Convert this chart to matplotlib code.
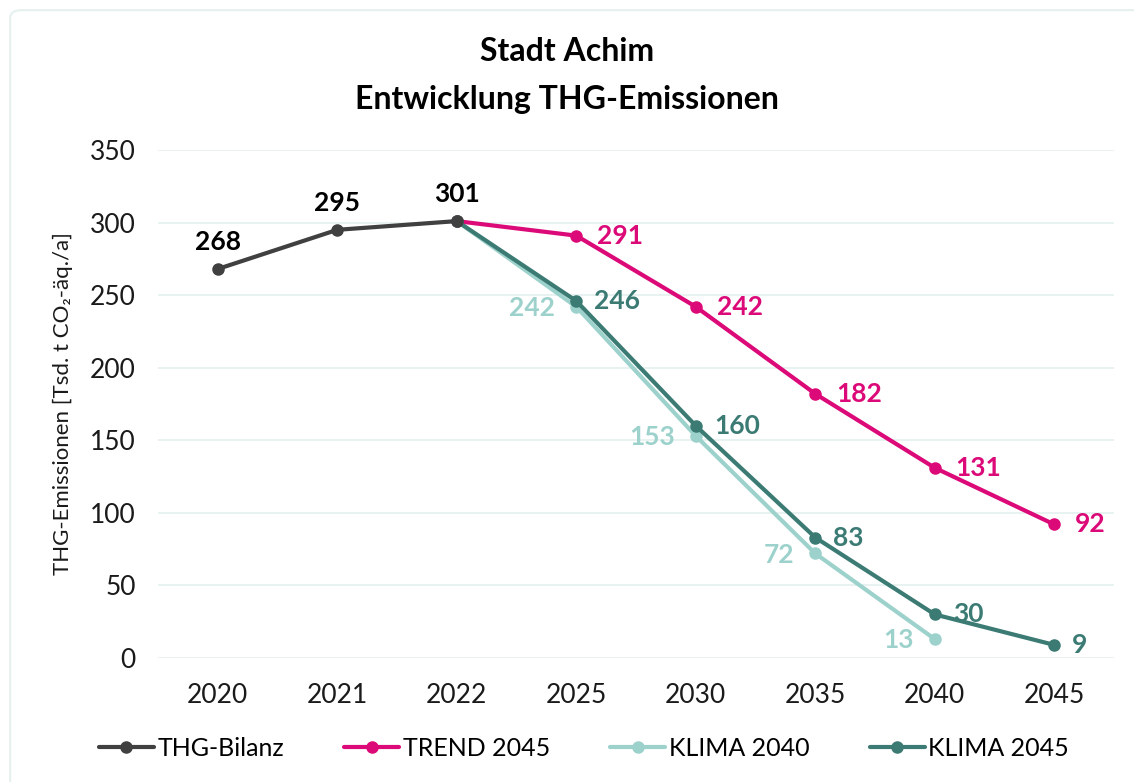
import matplotlib
matplotlib.use("Agg")
import matplotlib.pyplot as plt
from matplotlib.patches import FancyBboxPatch

plt.rcParams["font.family"] = ["Lato", "DejaVu Sans"]

years = ["2020", "2021", "2022", "2025", "2030", "2035", "2040", "2045"]

bilanz = [268, 295, 301]
trend_2045 = [301, 291, 242, 182, 131, 92]
klima_2040 = [301, 242, 153, 72, 13]
klima_2045 = [301, 246, 160, 83, 30, 9]

C_BILANZ = "#404040"
C_TREND = "#dc0a78"
C_K40 = "#9dd2cc"
C_K45 = "#3b7b74"


def main():
    fig = plt.figure(figsize=(11.34, 7.82), dpi=100)
    fig.patch.set_facecolor("white")
    frame = FancyBboxPatch((0.009, -0.02), 1.2, 1.007, transform=fig.transFigure,
                           boxstyle="round,pad=0,rounding_size=0.01",
                           facecolor="none", edgecolor="#e6f0ee", linewidth=1.5)
    fig.patches.append(frame)

    ax = fig.add_axes([0.1393, 0.1586, 0.8431, 0.6496])
    x = list(range(len(years)))

    kw = dict(linewidth=3, marker="o", markersize=8, solid_capstyle="round")
    ax.plot(x[2:2 + len(klima_2040)], klima_2040, color=C_K40, label="KLIMA 2040", zorder=3, **kw)
    ax.plot(x[2:2 + len(klima_2045)], klima_2045, color=C_K45, label="KLIMA 2045", zorder=4, **kw)
    ax.plot(x[2:2 + len(trend_2045)], trend_2045, color=C_TREND, label="TREND 2045", zorder=3, **kw)
    ax.plot(x[:len(bilanz)], bilanz, color=C_BILANZ, label="THG-Bilanz", zorder=5, **kw)

    fs = 19
    for i, v in enumerate(bilanz):
        ax.annotate(f"{v}", (x[i], v), xytext=(0, 11), textcoords="offset points",
                    ha="center", va="bottom", fontsize=fs, fontweight="bold", color="black")
    for i, v in enumerate(trend_2045[1:]):
        ax.annotate(f"{v}", (x[3 + i], v), xytext=(15, 0), textcoords="offset points",
                    ha="left", va="center", fontsize=fs, fontweight="bold", color=C_TREND)
    for i, v in enumerate(klima_2045[1:]):
        ax.annotate(f"{v}", (x[3 + i], v), xytext=(13, 0), textcoords="offset points",
                    ha="left", va="center", fontsize=fs, fontweight="bold", color=C_K45)
    for i, v in enumerate(klima_2040[1:]):
        ax.annotate(f"{v}", (x[3 + i], v), xytext=(-15, -1), textcoords="offset points",
                    ha="right", va="center", fontsize=fs, fontweight="bold", color=C_K40)

    ax.set_xlim(-0.5, len(years) - 0.5)
    ax.set_ylim(0, 350)
    ax.set_yticks(range(0, 351, 50))
    ax.set_xticks(x)
    ax.set_xticklabels(years)
    ax.tick_params(axis="both", length=0, labelsize=19, colors="#1a1a1a")
    ax.tick_params(axis="y", pad=16)
    ax.tick_params(axis="x", pad=18)
    ax.grid(axis="y", color="#e4f0ee", linewidth=1.2)
    ax.set_axisbelow(True)
    for s in ax.spines.values():
        s.set_visible(False)

    ax.set_ylabel("THG-Emissionen [Tsd. t CO₂-äq./a]", fontsize=16, color="#1a1a1a", labelpad=12)

    fig.text(0.5, 0.953, "Stadt Achim\nEntwicklung THG-Emissionen", ha="center", va="top",
             fontsize=23, fontweight="bold", linespacing=1.8)

    handles, labels = ax.get_legend_handles_labels()
    order = [3, 2, 0, 1]
    fig.legend([handles[i] for i in order], [labels[i] for i in order],
               loc="center", bbox_to_anchor=(0.515, 0.043), ncol=4, frameon=False,
               fontsize=18, handlelength=2.2, handletextpad=0.15, columnspacing=2.4)

    fig.savefig("out.png", dpi=100)


if __name__ == "__main__":
    main()
